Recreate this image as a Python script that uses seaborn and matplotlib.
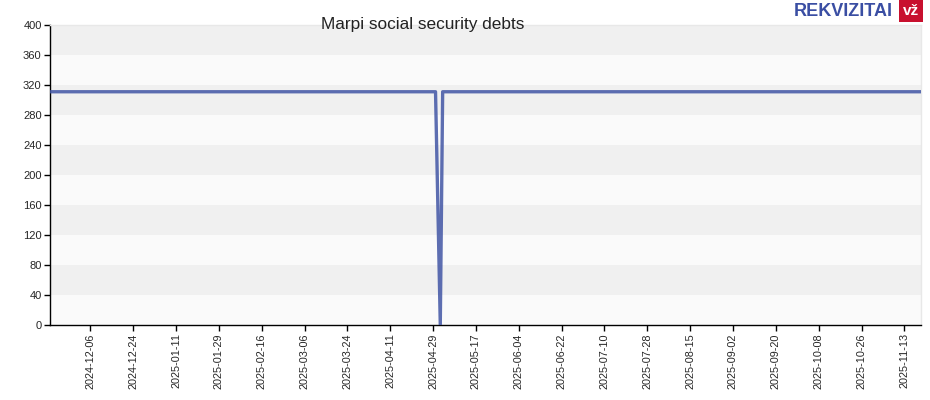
import matplotlib
matplotlib.use("Agg")
import matplotlib.pyplot as plt
import matplotlib.dates as mdates
import seaborn as sns
import pandas as pd

title = "Marpi social security debts"
dates = ["2024-11-19", "2025-04-30", "2025-05-02", "2025-05-03", "2025-11-20"]
debts = [311, 311, 0, 311, 311]
tick_labels = ["2024-12-06", "2024-12-24", "2025-01-11", "2025-01-29", "2025-02-16",
               "2025-03-06", "2025-03-24", "2025-04-11", "2025-04-29", "2025-05-17",
               "2025-06-04", "2025-06-22", "2025-07-10", "2025-07-28", "2025-08-15",
               "2025-09-02", "2025-09-20", "2025-10-08", "2025-10-26", "2025-11-13"]
y_ticks = [0, 40, 80, 120, 160, 200, 240, 280, 320, 360, 400]

sns.set_style("white")
plt.rcParams['font.family'] = ['Liberation Sans', 'DejaVu Sans']

df = pd.DataFrame({"date": pd.to_datetime(dates), "debt": debts})

fig = plt.figure(figsize=(9.3, 4.0), dpi=100, facecolor="white")
ax = fig.add_axes([50 / 930, 75 / 400, 871 / 930, 300 / 400])
ax.set_facecolor("#fafafa")

for i in range(len(y_ticks) - 1):
    if i % 2 == 1:
        ax.axhspan(y_ticks[i], y_ticks[i + 1], color="#f0f0f0", zorder=0, lw=0)

sns.lineplot(data=df, x="date", y="debt", ax=ax, color="#4155a5", lw=2.4, alpha=0.85, zorder=3)

ax.set_xlim(df["date"].min(), df["date"].max())
ax.set_ylim(0, 400)
ax.set_yticks(y_ticks)
ax.set_yticklabels([str(v) for v in y_ticks], fontsize=8)
tick_dates = pd.to_datetime(tick_labels)
ax.set_xticks(tick_dates)
ax.set_xticklabels(tick_labels, rotation=90, fontsize=7.8)
ax.tick_params(axis="both", direction="out", length=4, width=1, color="black", pad=2, bottom=True, left=True)
ax.set_xlabel("")
ax.set_ylabel("")

for s in ["top", "right"]:
    ax.spines[s].set_color("#e8e8e8")
    ax.spines[s].set_linewidth(1)
for s in ["left", "bottom"]:
    ax.spines[s].set_color("black")
    ax.spines[s].set_linewidth(1)

fig.text(423 / 930, 1 - 24 / 400, title, ha="center", va="center", fontsize=12.4, color="#222222")

fig.text(893 / 930, 1 - 11 / 400, "REKVIZITAI", ha="right", va="center", fontsize=13,
         fontweight="bold", color="#3a4ea3", fontstretch="condensed")
fig.text(911 / 930, 1 - 11 / 400, "vž", ha="center", va="center", fontsize=11, fontweight="bold",
         color="white", bbox=dict(boxstyle="square,pad=0.25", fc="#c8102e", ec="none"))

fig.savefig("out.png", dpi=100, facecolor="white")
